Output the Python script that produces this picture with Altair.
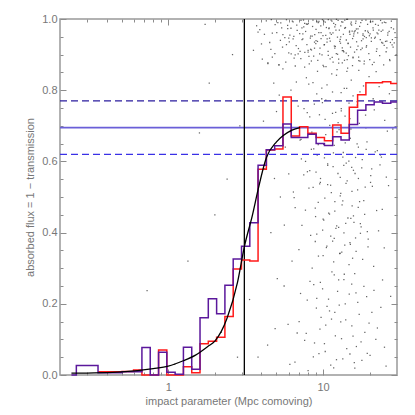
import altair as alt
import pandas as pd

# ---------------- data ----------------
bin_edges = [0.237, 0.255, 0.352, 0.503, 0.597, 0.676, 0.765, 0.866, 0.979, 1.108,
             1.253, 1.418, 1.604, 1.814, 2.053, 2.322, 2.627, 2.972, 3.362, 3.802,
             4.301, 4.866, 5.505, 6.228, 7.045, 7.970, 9.015, 10.20, 11.53, 13.05,
             14.76, 16.70, 18.89, 21.37, 24.17, 27.35, 30.0]
purple_vals = [0.0, 0.027, 0.006, 0.009, 0.009, 0.077, 0.0, 0.064, 0.008, 0.002,
               0.078, 0.016, 0.161, 0.214, 0.172, 0.252, 0.326, 0.362, 0.428, 0.589,
               0.633, 0.644, 0.705, 0.667, 0.667, 0.676, 0.650, 0.645, 0.669, 0.660,
               0.704, 0.744, 0.759, 0.767, 0.763, 0.767]
red_vals = [None, None, 0.009, 0.010, 0.014, 0.0, 0.0, 0.070, 0.0, 0.0,
            0.023, 0.006, 0.088, 0.095, 0.106, 0.164, 0.298, 0.323, 0.320, 0.578,
            0.632, 0.635, 0.781, 0.671, 0.697, 0.679, 0.667, 0.658, 0.702, 0.679,
            0.752, 0.787, 0.821, 0.821, 0.824, 0.819]

curve_x = [0.237, 0.5, 0.8, 1.0, 1.25, 1.5, 1.8, 2.0, 2.4, 2.8, 3.1, 3.5, 3.8,
           4.3, 5.0, 5.5, 6.3, 7.1]
curve_y = [0.005, 0.009, 0.018, 0.025, 0.040, 0.056, 0.080, 0.095, 0.160, 0.260,
           0.360, 0.450, 0.520, 0.610, 0.655, 0.672, 0.688, 0.695]

scatter_x = [
    4.3, 5.1, 5.8, 6.4, 7.2, 7.9, 8.6, 9.3, 10.1, 10.8, 11.7, 12.5, 13.4, 14.2, 15.1,
    16.3, 17.5, 18.9, 20.2, 21.8, 23.5, 25.4, 27.6,
    3.9, 4.7, 5.4, 6.1, 6.8, 7.5, 8.3, 9.0, 9.7, 10.5, 11.3, 12.1, 13.0, 13.8, 14.8,
    15.8, 16.8, 18.1, 19.4, 21.0, 22.6, 24.3, 26.2, 28.5,
    4.0, 4.6, 5.3, 6.0, 6.7, 7.4, 8.0, 8.8, 9.5, 10.2, 11.0, 11.9, 12.8, 13.6, 14.5,
    15.5, 16.5, 17.7, 19.0, 20.5, 22.1, 23.9, 25.8, 28.0,
    4.4, 5.5, 6.5, 7.6, 8.4, 9.2, 10.0, 11.1, 12.3, 13.3, 14.4, 15.6, 17.0, 18.4,
    20.0, 22.0, 24.6, 27.0,
    4.8, 6.2, 7.8, 9.1, 10.6, 12.2, 13.7, 15.2, 17.3, 19.8, 23.0, 26.8,
    5.0, 6.9, 8.2, 9.9, 11.5, 13.1, 14.9, 16.6, 18.8, 21.4, 25.0,
    5.7, 7.1, 8.7, 10.4, 11.8, 13.5, 15.0, 16.9, 19.2, 22.4, 26.0,
    4.2, 6.0, 7.7, 9.0, 10.2, 11.6, 12.9, 14.1, 15.7, 17.9, 20.3, 23.3,
    5.3, 6.6, 8.1, 9.3, 10.7, 11.9, 13.0, 14.3, 15.4, 16.7, 18.3, 20.8, 24.1,
    4.6, 7.3, 8.9, 10.1, 11.2, 12.6, 13.8, 15.1, 16.2, 17.4, 19.5, 22.8,
    6.3, 8.5, 10.0, 11.4, 13.2, 14.7, 16.0, 18.0, 21.2,
    5.6, 7.9, 9.6, 11.0, 12.4, 13.9, 15.3, 17.1, 19.1, 23.6,
    4.9, 7.0, 8.8, 10.4, 12.0, 14.0, 16.4, 18.6, 21.9,
    3.8, 6.1, 9.4, 11.7, 13.4, 15.9, 20.1, 25.5,
    0.73, 1.34, 1.59, 1.73, 1.84, 2.2, 2.4, 2.6, 2.8, 2.9, 2.0, 1.1,
]
scatter_y = [
    0.995, 0.990, 0.998, 0.992, 0.996, 0.985, 0.997, 0.990, 0.994, 0.998, 0.988, 0.996,
    0.991, 0.999, 0.986, 0.994, 0.990, 0.997, 0.992, 0.985, 0.996, 0.990, 0.994,
    0.970, 0.960, 0.975, 0.955, 0.968, 0.978, 0.952, 0.971, 0.962, 0.976, 0.957, 0.969,
    0.950, 0.974, 0.963, 0.958, 0.972, 0.954, 0.966, 0.975, 0.958, 0.969, 0.961, 0.972,
    0.930, 0.915, 0.940, 0.905, 0.925, 0.944, 0.912, 0.935, 0.902, 0.928, 0.946, 0.918,
    0.937, 0.908, 0.931, 0.945, 0.914, 0.939, 0.921, 0.947, 0.909, 0.934, 0.919, 0.942,
    0.875, 0.860, 0.890, 0.865, 0.882, 0.853, 0.870, 0.888, 0.858, 0.877, 0.862, 0.893,
    0.856, 0.874, 0.886, 0.852, 0.871, 0.883,
    0.820, 0.800, 0.835, 0.790, 0.815, 0.842, 0.805, 0.828, 0.795, 0.838, 0.810, 0.790,
    0.740, 0.755, 0.725, 0.765, 0.735, 0.748, 0.720, 0.758, 0.730, 0.745, 0.715,
    0.640, 0.660, 0.635, 0.675, 0.645, 0.625, 0.665, 0.640, 0.655, 0.630, 0.685,
    0.580, 0.565, 0.600, 0.570, 0.610, 0.585, 0.555, 0.595, 0.575, 0.605, 0.560, 0.590,
    0.500, 0.470, 0.525, 0.485, 0.535, 0.460, 0.510, 0.545, 0.475, 0.520, 0.490, 0.530,
    0.465,
    0.400, 0.420, 0.375, 0.435, 0.390, 0.415, 0.365, 0.440, 0.385, 0.425, 0.360, 0.405,
    0.320, 0.300, 0.335, 0.290, 0.345, 0.310, 0.285, 0.325, 0.305,
    0.250, 0.210, 0.260, 0.180, 0.235, 0.200, 0.255, 0.170, 0.220, 0.190,
    0.130, 0.150, 0.090, 0.140, 0.110, 0.155, 0.080, 0.120, 0.100,
    0.050, 0.030, 0.060, 0.020, 0.045, 0.035, 0.055, 0.025,
    0.237, 0.320, 0.680, 0.985, 0.820, 0.120, 0.550, 0.900, 0.050, 0.700, 0.450, 0.030,
]

top_x = [3.55, 3.72, 4.05, 4.18, 4.52, 4.63, 4.88, 5.02, 5.17, 5.33, 5.47, 5.66, 5.74,
         5.91, 6.05, 6.22, 6.33, 6.47, 6.61, 6.76, 6.93, 7.06, 7.18, 7.31, 7.47, 7.62,
         7.71, 7.86, 8.02, 8.14, 8.27, 8.41, 8.55, 8.69, 8.83, 8.97, 9.12, 9.24, 9.38,
         9.55, 9.66, 9.84, 9.98, 10.15, 10.33, 10.44, 10.62, 10.77, 10.93, 11.12, 11.26,
         11.45, 11.58, 11.83, 12.02, 12.17, 12.38, 12.61, 12.73, 12.95, 13.17, 13.31,
         13.52, 13.74, 13.95, 14.12, 14.37, 14.58, 14.82, 15.03, 15.27, 15.48, 15.72,
         15.96, 16.21, 16.45, 16.72, 16.95, 17.22, 17.51, 17.83, 18.12, 18.45, 18.72,
         19.08, 19.37, 19.73, 20.11, 20.48, 20.92, 21.33, 21.76, 22.25, 22.71, 23.19,
         23.72, 24.28, 24.87, 25.52, 26.13, 26.88, 27.54, 28.31, 29.12, 29.6]
top_y = [0.912, 0.981, 0.887, 0.957, 0.934, 0.998, 0.903, 0.962, 0.871, 0.989, 0.921,
         0.948, 0.879, 0.973, 0.936, 0.902, 0.994, 0.951, 0.868, 0.983, 0.917, 0.959,
         0.889, 0.942, 0.997, 0.906, 0.965, 0.928, 0.987, 0.874, 0.946, 0.913, 0.979,
         0.896, 0.956, 0.931, 0.993, 0.884, 0.962, 0.918, 0.981, 0.899, 0.953, 0.927,
         0.991, 0.866, 0.944, 0.909, 0.975, 0.938, 0.997, 0.892, 0.961, 0.924, 0.984,
         0.903, 0.949, 0.876, 0.969, 0.932, 0.992, 0.911, 0.957, 0.884, 0.976, 0.941,
         0.999, 0.897, 0.966, 0.921, 0.983, 0.869, 0.952, 0.907, 0.988, 0.936, 0.961,
         0.893, 0.979, 0.914, 0.996, 0.944, 0.882, 0.967, 0.925, 0.985, 0.903, 0.958,
         0.937, 0.993, 0.878, 0.949, 0.916, 0.982, 0.897, 0.965, 0.932, 0.991, 0.908,
         0.955, 0.886, 0.976, 0.921, 0.962, 0.899]

top2_x = [12.9, 5.2, 19.6, 8.8, 24.1, 6.9, 14.9, 10.6, 3.8, 17.3,
          9.4, 27.9, 7.4, 11.6, 21.5, 4.9, 13.5, 16.1, 8.1, 25.8,
          6.2, 10.1, 18.5, 12.2, 5.8, 15.6, 22.9, 9.7, 7.8, 14.1,
          28.8, 11.1, 4.4, 20.3, 16.8, 8.5, 13.0, 6.6, 23.4, 10.9,
          17.9, 5.5, 12.6, 26.7, 9.2, 15.2, 7.1, 19.0, 11.9, 4.7,
          14.5, 21.1, 8.3, 13.8, 6.0, 17.0, 10.4, 24.8, 7.6, 12.4,
          15.9, 9.0, 20.8, 5.9, 13.3, 18.1, 11.4, 27.2, 8.0, 16.4,
          6.4, 14.3, 22.3, 9.9, 12.0, 19.9, 7.3, 10.8, 25.3, 15.4]
top2_y = [0.943, 0.871, 0.962, 0.918, 0.989, 0.902, 0.957, 0.935, 0.963, 0.882,
          0.993, 0.927, 0.958, 0.879, 0.946, 0.984, 0.911, 0.967, 0.895, 0.938,
          0.974, 0.866, 0.951, 0.999, 0.928, 0.891, 0.969, 0.945, 0.986, 0.904,
          0.933, 0.961, 0.877, 0.992, 0.924, 0.952, 0.981, 0.899, 0.942, 0.973,
          0.918, 0.956, 0.887, 0.965, 0.937, 0.991, 0.909, 0.948, 0.978, 0.893,
          0.932, 0.969, 0.915, 0.997, 0.946, 0.883, 0.954, 0.926, 0.988, 0.901,
          0.964, 0.939, 0.872, 0.982, 0.919, 0.958, 0.994, 0.934, 0.907, 0.972,
          0.944, 0.886, 0.961, 0.998, 0.923, 0.953, 0.975, 0.898, 0.937, 0.966]

mid_x = [4.12, 4.85, 5.21, 5.62, 6.14, 6.43, 6.72, 6.98, 7.24, 7.53, 7.69, 7.92, 8.08,
         8.31, 8.46, 8.62, 8.78, 8.94, 9.16, 9.33, 9.47, 9.62, 9.81, 9.93, 10.08, 10.26,
         10.41, 10.58, 10.71, 10.86, 11.04, 11.18, 11.37, 11.52, 11.66, 11.91, 12.06,
         12.24, 12.47, 12.68, 12.86, 13.07, 13.26, 13.41, 13.63, 13.86, 14.06, 14.24,
         14.46, 14.66, 14.91, 15.12, 15.36, 15.61, 15.82, 16.08, 16.33, 16.58, 16.86,
         17.14, 17.42, 17.76, 18.23, 18.55, 18.97, 19.55, 20.24, 21.05, 22.16, 23.45,
         24.82, 26.45, 28.2]
mid_y = [0.713, 0.552, 0.786, 0.421, 0.684, 0.514, 0.823, 0.352, 0.607, 0.748, 0.463,
         0.571, 0.817, 0.392, 0.682, 0.527, 0.761, 0.445, 0.618, 0.334, 0.731, 0.552,
         0.806, 0.407, 0.648, 0.497, 0.772, 0.362, 0.589, 0.455, 0.701, 0.533, 0.846,
         0.376, 0.624, 0.487, 0.738, 0.419, 0.566, 0.689, 0.342, 0.793, 0.478, 0.612,
         0.399, 0.727, 0.538, 0.853, 0.441, 0.601, 0.372, 0.691, 0.516, 0.784, 0.429,
         0.566, 0.347, 0.649, 0.471, 0.707, 0.398, 0.582, 0.812, 0.451, 0.634, 0.382,
         0.541, 0.776, 0.462, 0.618, 0.357, 0.532, 0.691]

mid2_x = [11.3, 8.4, 15.7, 9.8, 13.6, 19.3, 7.2, 12.8, 10.3, 16.9,
          8.9, 14.2, 11.8, 21.7, 9.5, 13.1, 17.6, 10.7, 6.5, 15.0,
          12.3, 8.6, 18.7, 11.0, 14.7, 9.1, 16.2, 12.9, 7.9, 20.6,
          10.0, 13.9, 15.5, 8.2, 11.5, 17.2, 9.6, 14.0, 12.5, 23.8,
          10.5, 16.6, 7.5, 13.4, 18.9, 11.7, 9.3, 15.3, 12.1, 25.6]
mid2_y = [0.512, 0.634, 0.447, 0.776, 0.589, 0.403, 0.662, 0.341, 0.718, 0.552,
          0.469, 0.805, 0.384, 0.627, 0.537, 0.742, 0.416, 0.593, 0.498, 0.367,
          0.683, 0.821, 0.528, 0.452, 0.764, 0.396, 0.611, 0.503, 0.737, 0.579,
          0.438, 0.652, 0.328, 0.574, 0.795, 0.487, 0.541, 0.426, 0.709, 0.612,
          0.358, 0.768, 0.562, 0.489, 0.694, 0.318, 0.647, 0.583, 0.412, 0.556]

low_x = [3.35, 4.38, 5.06, 5.94, 6.58, 7.15, 7.78, 8.23, 8.65, 9.05, 9.54, 9.92, 10.32,
         10.84, 11.33, 11.8, 12.2, 12.71, 13.15, 13.62, 14.21, 14.75, 15.33, 16.02,
         16.74, 17.58, 18.34, 19.28, 20.65, 22.42, 24.9, 27.3,
         9.7, 13.7, 7.6, 16.3, 11.2, 19.8, 8.7, 14.9, 10.6, 6.8,
         12.6, 17.8, 9.1, 15.6, 11.9, 21.3, 8.0, 13.0, 24.2, 10.2]
low_y = [0.212, 0.084, 0.271, 0.142, 0.036, 0.229, 0.117, 0.263, 0.051, 0.188, 0.129,
         0.242, 0.066, 0.213, 0.157, 0.281, 0.043, 0.196, 0.102, 0.268, 0.074, 0.227,
         0.138, 0.019, 0.204, 0.093, 0.249, 0.061, 0.176, 0.132, 0.078, 0.221,
         0.162, 0.283, 0.097, 0.231, 0.028, 0.146, 0.254, 0.059, 0.193, 0.118,
         0.267, 0.041, 0.215, 0.109, 0.176, 0.238, 0.012, 0.149, 0.267, 0.088]

vline_x = [3.1]
hline_solid = [0.695]
hline_dash_hi = [0.77]
hline_dash_lo = [0.62]

x_major = [1, 10]
x_minor = [0.3, 0.4, 0.5, 0.6, 0.7, 0.8, 0.9, 2, 3, 4, 5, 6, 7, 8, 9, 20]
y_major = [0.0, 0.2, 0.4, 0.6, 0.8, 1.0]
y_minor = [0.05, 0.1, 0.15, 0.25, 0.3, 0.35, 0.45, 0.5, 0.55, 0.65, 0.7, 0.75,
           0.85, 0.9, 0.95]

# ---------------- tables ----------------
def step_table(vals):
    rows = []
    last = None
    for i, v in enumerate(vals):
        if v is None:
            continue
        rows.append({"x": bin_edges[i], "y": v, "o": i})
        last = v
    rows.append({"x": bin_edges[-1], "y": last, "o": len(vals)})
    return pd.DataFrame(rows)

red_df = step_table(red_vals)
purple_df = step_table(purple_vals)
curve_df = pd.DataFrame({"x": curve_x, "y": curve_y})
scatter_df = pd.DataFrame({
    "x": scatter_x + top_x + top2_x + mid_x + mid2_x + low_x,
    "y": scatter_y + top_y + top2_y + mid_y + mid2_y + low_y,
})

xs = alt.Scale(type="log", domain=[0.2, 30], nice=False)
ys = alt.Scale(domain=[0, 1], nice=False, zero=False)

GREY = "#8c8c8c"
TXT = "#777777"


def tick_axis(orient, values, size):
    return alt.Axis(orient=orient, values=values, tickSize=size, offset=-size,
                    domain=False, grid=False, labels=False, ticks=True,
                    tickColor=GREY, tickWidth=1)


NOAX = None

scatter = alt.Chart(scatter_df).mark_square(size=1.6, color="#333333", opacity=0.75).encode(
    x=alt.X("x:Q", scale=xs, title="impact parameter (Mpc comoving)",
            axis=alt.Axis(orient="bottom", values=x_major, format="~g", tickSize=6,
                          offset=-6, labelPadding=6, domain=False, grid=False,
                          tickColor=GREY, labelFlush=False, titlePadding=3)),
    y=alt.Y("y:Q", scale=ys, title="absorbed flux = 1 \u2212 transmission",
            axis=alt.Axis(orient="left", values=y_major, format=".1f", tickSize=6,
                          offset=-6, labelPadding=3, domain=False, grid=False,
                          tickColor=GREY, labelFlush=False, titlePadding=6)),
)

red = alt.Chart(red_df).mark_line(interpolate="step-after", color="#ff1a1a",
                                  strokeWidth=1.5).encode(
    x=alt.X("x:Q", scale=xs, title=None, axis=tick_axis("bottom", x_minor, 3)),
    y=alt.Y("y:Q", scale=ys, title=None, axis=tick_axis("left", y_minor, 3)),
    order="o:Q",
)

purple = alt.Chart(purple_df).mark_line(interpolate="step-after", color="#5b189c",
                                        strokeWidth=1.5).encode(
    x=alt.X("x:Q", scale=xs, title=None, axis=tick_axis("top", x_major, 6)),
    y=alt.Y("y:Q", scale=ys, title=None, axis=tick_axis("right", y_major, 6)),
    order="o:Q",
)

curve = alt.Chart(curve_df).mark_line(interpolate="monotone", color="black",
                                      strokeWidth=1.3).encode(
    x=alt.X("x:Q", scale=xs, title=None, axis=tick_axis("top", x_minor, 3)),
    y=alt.Y("y:Q", scale=ys, title=None, axis=tick_axis("right", y_minor, 3)),
)

solid = alt.Chart(pd.DataFrame({"y": hline_solid})).mark_rule(
    color="#6a5fd8", strokeWidth=1.6).encode(y=alt.Y("y:Q", scale=ys, axis=NOAX))
dash_hi = alt.Chart(pd.DataFrame({"y": hline_dash_hi})).mark_rule(
    color="#2b1c9e", strokeWidth=1.3, strokeDash=[7, 4]).encode(
    y=alt.Y("y:Q", scale=ys, axis=NOAX))
dash_lo = alt.Chart(pd.DataFrame({"y": hline_dash_lo})).mark_rule(
    color="#3a30e6", strokeWidth=1.3, strokeDash=[7, 4]).encode(
    y=alt.Y("y:Q", scale=ys, axis=NOAX))
vline = alt.Chart(pd.DataFrame({"x": vline_x})).mark_rule(
    color="black", strokeWidth=1.3).encode(x=alt.X("x:Q", scale=xs, axis=NOAX))

chart = alt.layer(scatter, solid, dash_hi, dash_lo, vline, red, purple, curve).resolve_axis(
    x="independent", y="independent"
).properties(
    width=337, height=356,
    autosize=alt.AutoSizeParams(type="none"),
    padding={"left": 52, "top": 11, "right": 10, "bottom": 36},
).configure_view(
    stroke="#999999", strokeWidth=1.5
).configure_axis(
    labelFont="Liberation Sans", labelFontSize=11, labelColor=TXT,
    titleFont="Liberation Sans", titleFontSize=11, titleFontWeight="normal",
    titleColor=TXT,
)

chart.save("out.html", embed_options={"renderer": "svg", "actions": False})
